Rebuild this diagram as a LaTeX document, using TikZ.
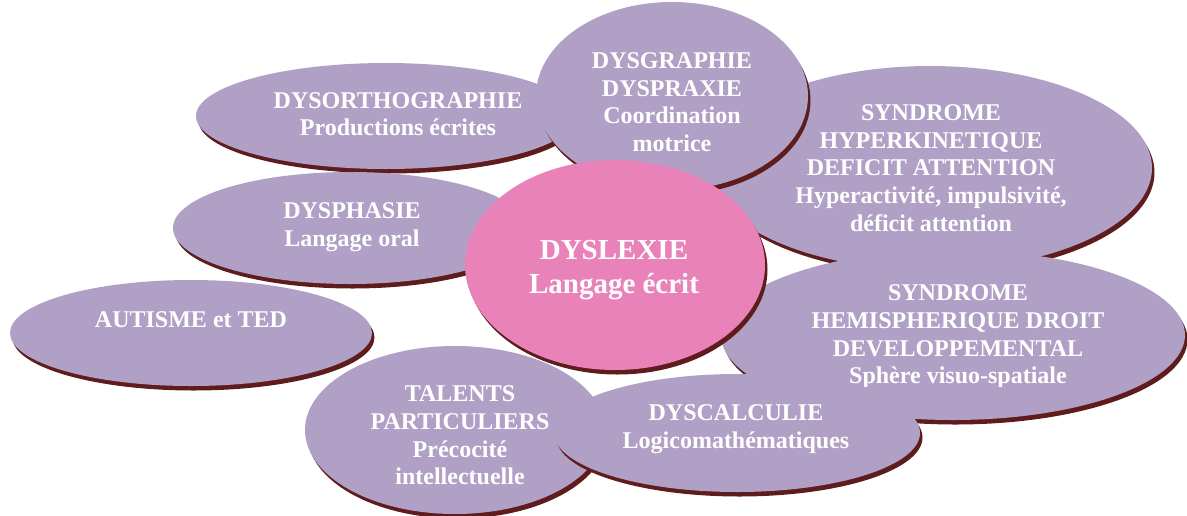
\documentclass[tikz,border=0pt]{standalone}
\usepackage{fontspec}
\setmainfont{Liberation Serif}
\usetikzlibrary{shapes.geometric,shadows}
\definecolor{lav}{RGB}{176,160,198}
\definecolor{pinkc}{RGB}{233,130,185}
\definecolor{shadowc}{RGB}{94,28,28}
\tikzset{
  bub/.style={ellipse, fill=lav, inner sep=0pt, draw=none,
    drop shadow={shadow xshift=2.5pt, shadow yshift=-4.5pt, fill=shadowc, opacity=1}},
  centre/.style={ellipse, fill=pinkc, inner sep=0pt, draw=none,
    drop shadow={shadow xshift=2.5pt, shadow yshift=-4.5pt, fill=shadowc, opacity=1}},
  lbl/.style={text=white, align=center, inner sep=0pt,
    font=\fontsize{24}{27.6}\selectfont\bfseries},
  biglbl/.style={text=white, align=center, inner sep=0pt,
    font=\fontsize{29}{34}\selectfont\bfseries}
}
\begin{document}
\begin{tikzpicture}[x=1pt,y=-1pt]
\useasboundingbox (0,0) rectangle (1187,515);
% DYSORTHOGRAPHIE
\node[bub, minimum width=380pt, minimum height=106pt] (ortho) at (386,116) {};
\node[lbl] (orthot) at (398,114) {DYSORTHOGRAPHIE\\Productions écrites};
% HYPERKINETIQUE
\node[bub, minimum width=444pt, minimum height=204pt] (hyper) at (930,168) {};
\node[lbl] (hypert) at (931,168) {SYNDROME\\HYPERKINETIQUE\\DEFICIT ATTENTION\\Hyperactivité, impulsivité,\\déficit attention};
% DYSGRAPHIE
\node[bub, minimum width=272pt, minimum height=188pt] (graph) at (672,96) {};
\node[lbl] (grapht) at (672,102) {DYSGRAPHIE\\DYSPRAXIE\\Coordination\\motrice};
% DYSPHASIE
\node[bub, minimum width=354pt, minimum height=112pt] (phas) at (350,228) {};
\node[lbl] (phast) at (352,227) {DYSPHASIE\\Langage oral};
% AUTISME
\node[bub, minimum width=362pt, minimum height=106pt] (aut) at (191,333) {};
\node[lbl] (autt) at (191,320) {AUTISME et TED};
% HEMISPHERIQUE
\node[bub, minimum width=464pt, minimum height=170pt] (hemi) at (953,335) {};
\begin{scope}
\clip (780,255) rectangle (1140,386);
\node[lbl] (hemit) at (958,337) {SYNDROME\\HEMISPHERIQUE DROIT\\DEVELOPPEMENTAL\\Sphère visuo-spatiale};
\end{scope}
% TALENTS
\node[bub, minimum width=300pt, minimum height=168pt] (tal) at (455,430) {};
\node[lbl] (talt) at (460,435.5) {TALENTS\\PARTICULIERS\\Précocité\\intellectuelle};
% DYSCALCULIE
\node[bub, minimum width=366pt, minimum height=118pt] (calc) at (737,433) {};
\node[lbl] (calct) at (736,429) {DYSCALCULIE\\Logicomathématiques};
% DYSLEXIE
\node[centre, minimum width=300pt, minimum height=210pt] (lex) at (615,265) {};
\node[biglbl] (lext) at (614,270) {DYSLEXIE\\Langage écrit};
\end{tikzpicture}
\end{document}
